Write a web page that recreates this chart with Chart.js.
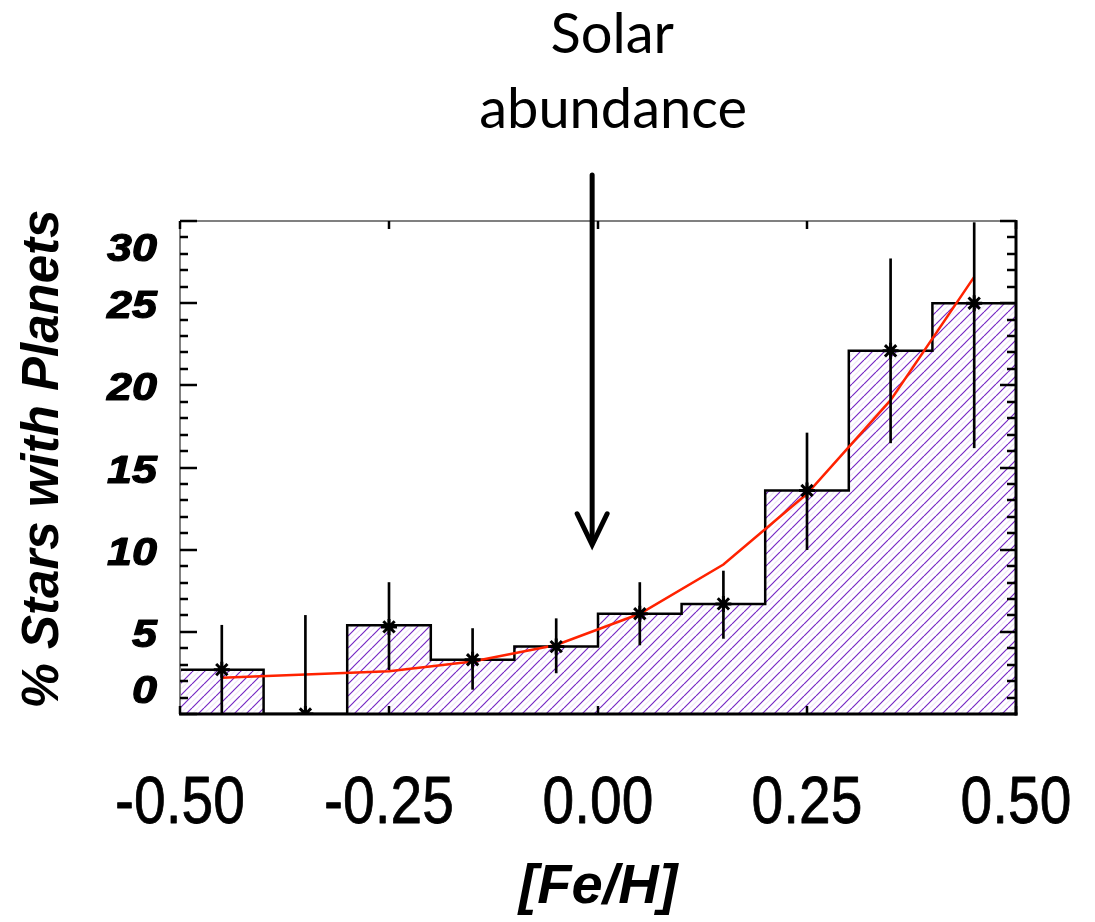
<!DOCTYPE html>
<html><head><meta charset="utf-8">
<script src="https://cdn.jsdelivr.net/npm/chart.js@4.4.1/dist/chart.umd.min.js"></script>
<style>html,body{margin:0;padding:0;background:#fff;overflow:hidden}canvas{display:block}</style>
</head><body>
<canvas id="c" width="1095" height="922"></canvas>
<script>
// ---- data ----
const binEdges = [-0.5, -0.4, -0.3, -0.2, -0.1, 0.0, 0.1, 0.2, 0.3, 0.4, 0.5];
const binCenters = [-0.45, -0.35, -0.25, -0.15, -0.05, 0.05, 0.15, 0.25, 0.35, 0.45];
const histPercent = [2.7, 0, 5.4, 3.3, 4.1, 6.1, 6.7, 13.6, 22.1, 25.0];
const pointPercent = [2.7, 0, 5.3, 3.3, 4.1, 6.1, 6.7, 13.6, 22.1, 25.0];
const errLow = [0, 0, 2.7, 1.5, 2.5, 4.2, 4.6, 10.0, 16.5, 16.2];
const errHigh = [5.4, 6.0, 8.0, 5.2, 5.8, 8.0, 8.7, 17.1, 27.7, 29.9];
const fitPercent = [2.2, 2.4, 2.6, 3.2, 4.2, 6.1, 9.1, 13.4, 19.1, 26.6];
const xTickValues = [-0.5, -0.25, 0, 0.25, 0.5];
const xTickLabels = ['-0.50', '-0.25', '0.00', '0.25', '0.50'];
const yTickValues = [0, 5, 10, 15, 20, 25, 30];
const yTickLabels = ['0', '5', '10', '15', '20', '25', '30'];
const yMinorStep = 1;
const xTitle = '[Fe/H]';
const yTitle = '% Stars with Planets';
const annotationLines = ['Solar', 'abundance'];
const arrowX = -0.007;     // [Fe/H] of the arrow
const arrowTipY = 10.3;    // % value at arrow tip

// ---- hatch pattern ----
function makeHatch() {
  const s = 12;
  const c = document.createElement('canvas');
  c.width = s; c.height = s;
  const g = c.getContext('2d');
  g.fillStyle = '#ffffff';
  g.fillRect(0, 0, s, s);
  g.lineWidth = 1.2;
  g.strokeStyle = '#efe6f8';
  for (const k of [-s, 0, s]) {
    g.beginPath(); g.moveTo(k + s / 2, s); g.lineTo(k + s / 2 + s, 0); g.stroke();
  }
  g.strokeStyle = '#7526c4';
  g.lineWidth = 1.15;
  for (const k of [-s, 0, s]) {
    g.beginPath(); g.moveTo(k, s); g.lineTo(k + s, 0); g.stroke();
  }
  return g.createPattern(c, 'repeat');
}

const ctxMain = document.getElementById('c').getContext('2d');
const hatch = makeHatch();

const stepData = binEdges.slice(0, -1).map((e, i) => ({x: e, y: histPercent[i]}));
stepData.push({x: binEdges[binEdges.length - 1], y: histPercent[histPercent.length - 1]});

function seg(ctx, x1, y1, x2, y2) { ctx.beginPath(); ctx.moveTo(x1, y1); ctx.lineTo(x2, y2); ctx.stroke(); }

const decor = {
  id: 'decor',
  afterDatasetsDraw(chart) {
    const {ctx, chartArea: a, scales: {x, y}} = chart;
    ctx.save();
    ctx.lineCap = 'butt';
    // frame
    ctx.strokeStyle = '#808080'; ctx.lineWidth = 2;
    seg(ctx, a.left, a.top, a.right, a.top);
    seg(ctx, a.left, a.top, a.left, a.bottom);
    ctx.strokeStyle = '#000'; ctx.lineWidth = 3;
    seg(ctx, a.left - 1, a.bottom, a.right + 1.5, a.bottom);
    seg(ctx, a.right, a.top - 1, a.right, a.bottom + 1.5);
    // y ticks (left and right, inward)
    ctx.lineWidth = 2.5; ctx.strokeStyle = '#000';
    for (let v = y.min; v <= y.max + 1e-9; v += yMinorStep) {
      const py = Math.round(y.getPixelForValue(v));
      const major = yTickValues.includes(v);
      seg(ctx, a.left, py, a.left + (major ? 17 : 8), py);
      seg(ctx, a.right, py, a.right - (major ? 16 : 9), py);
    }
    // x ticks (top and bottom, inward)
    ctx.lineWidth = 2.5;
    for (const v of xTickValues) {
      const px = Math.round(x.getPixelForValue(v));
      seg(ctx, px, a.top, px, a.top + 8);
      seg(ctx, px, a.bottom, px, a.bottom - 8);
    }
    ctx.restore();
  },
  afterDraw(chart) {
    const {ctx, chartArea: a, scales: {x, y}} = chart;
    ctx.save();
    ctx.fillStyle = '#000';
    ctx.strokeStyle = '#000';
    ctx.lineJoin = 'round';
    // x tick labels
    ctx.font = '67px "Liberation Sans", Arial, sans-serif';
    ctx.textAlign = 'center'; ctx.textBaseline = 'alphabetic';
    ctx.lineWidth = 0.8;
    xTickValues.forEach((v, i) => {
      ctx.save();
      ctx.translate(x.getPixelForValue(v), a.bottom + 109);
      ctx.scale(0.85, 1);
      ctx.fillText(xTickLabels[i], 0, 0);
      ctx.strokeText(xTickLabels[i], 0, 0);
      ctx.restore();
    });
    // y tick labels
    ctx.font = 'italic bold 39px "Liberation Sans", Arial, sans-serif';
    ctx.textAlign = 'right';
    ctx.lineWidth = 1.2;
    yTickValues.forEach((v, i) => {
      let py = y.getPixelForValue(v) + 15;
      if (v === y.max) py += 25;
      if (v === y.min) py -= 26;
      ctx.save();
      ctx.translate(a.left - 23, py);
      ctx.scale(1.15, 1);
      ctx.fillText(yTickLabels[i], 0, 0);
      ctx.strokeText(yTickLabels[i], 0, 0);
      ctx.restore();
    });
    // y title
    ctx.save();
    ctx.font = 'italic bold 51px "Liberation Sans", Arial, sans-serif';
    ctx.textAlign = 'center'; ctx.textBaseline = 'middle';
    ctx.translate(44, 459);
    ctx.rotate(-Math.PI / 2);
    ctx.fillText(yTitle, 0, 0);
    ctx.restore();
    // annotation text
    const ax = x.getPixelForValue(arrowX);
    ctx.font = '56px Lato, "Open Sans", sans-serif';
    ctx.textAlign = 'center'; ctx.textBaseline = 'alphabetic';
    ctx.fillText(annotationLines[0], ax + 20, 53);
    ctx.fillText(annotationLines[1], ax + 21, 128);
    // arrow
    const tipY = y.getPixelForValue(arrowTipY);
    ctx.strokeStyle = '#000'; ctx.lineWidth = 5; ctx.lineCap = 'round'; ctx.lineJoin = 'miter';
    seg(ctx, ax, 175, ax, tipY - 3);
    ctx.beginPath();
    ctx.moveTo(ax - 15, tipY - 31);
    ctx.lineTo(ax, tipY);
    ctx.lineTo(ax + 15, tipY - 31);
    ctx.stroke();
    ctx.restore();
  }
};

new Chart(ctxMain, {
  type: 'line',
  data: {
    datasets: [
      {
        type: 'line', data: stepData, stepped: 'before',
        borderColor: '#000', borderWidth: 2.5, backgroundColor: hatch,
        fill: 'origin', pointRadius: 0, order: 4
      },
      {
        type: 'line', data: binCenters.map((c, i) => ({x: c, y: fitPercent[i]})),
        borderColor: '#ff2200', borderWidth: 2.5, pointRadius: 0, tension: 0, fill: false, order: 3
      },
      {
        type: 'bar', data: binCenters.map((c, i) => ({x: c, y: [errLow[i], errHigh[i]]})),
        backgroundColor: '#000', borderWidth: 0, barThickness: 2, order: 2
      },
      {
        type: 'line', showLine: false, data: binCenters.map((c, i) => ({x: c, y: pointPercent[i]})),
        pointStyle: 'star', pointRadius: 8, borderColor: '#000', borderWidth: 3,
        backgroundColor: '#000', order: 1
      }
    ]
  },
  plugins: [decor],
  options: {
    responsive: false, animation: false, devicePixelRatio: 1,
    layout: {padding: {left: 0, top: 221, right: 79, bottom: 0}},
    plugins: {legend: {display: false}, tooltip: {enabled: false}},
    events: [],
    scales: {
      x: {
        type: 'linear', min: -0.5, max: 0.5, offset: false,
        grid: {display: false}, border: {display: false}, ticks: {display: false},
        title: {display: true, text: xTitle, color: '#000',
          font: {family: '"Liberation Sans", Arial, sans-serif', size: 56, weight: 'bold', style: 'italic'},
          padding: {top: 0, bottom: 1}},
        afterFit: s => { s.height = 208; }
      },
      y: {
        type: 'linear', min: 0, max: 30,
        grid: {display: false}, border: {display: false}, ticks: {display: false},
        afterFit: s => { s.width = 180; }
      }
    }
  }
});
</script>
</body></html>
